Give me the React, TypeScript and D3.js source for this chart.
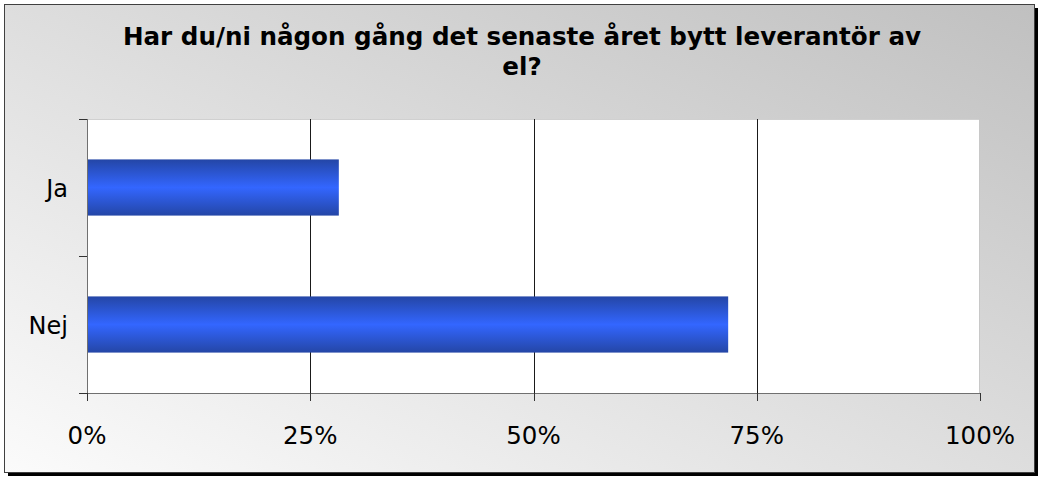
import React from "react";
import * as d3 from "d3";

const categories = ["Ja", "Nej"];
const values = [28.2, 71.8];
const xTicks = [0, 25, 50, 75, 100];
const titleLines = ["Har du/ni någon gång det senaste året bytt leverantör av", "el?"];

export default function App() {
  const W = 1038, H = 477;
  const plot = { left: 87, top: 119, right: 980, bottom: 393 };
  const x = d3.scaleLinear().domain([0, 100]).range([plot.left, plot.right]);
  const y = d3.scaleBand().domain(categories).range([plot.top, plot.bottom]).paddingInner(0.59).paddingOuter(0.295);
  const font = "'DejaVu Sans', Verdana, sans-serif";
  return (
    <svg width={W} height={H} style={{ position: "absolute", left: 0, top: 0, display: "block" }}>
      <defs>
        <linearGradient id="bg" x1="0" y1="1" x2="1" y2="0">
          <stop offset="0" stopColor="#fbfbfb" />
          <stop offset="1" stopColor="#c0c0c0" />
        </linearGradient>
        <linearGradient id="bar" x1="0" y1="0" x2="0" y2="1">
          <stop offset="0" stopColor="#2446a6" />
          <stop offset="0.5" stopColor="#3366ff" />
          <stop offset="1" stopColor="#2446a6" />
        </linearGradient>
      </defs>
      <rect x={8} y={8} width={1030} height={468} fill="#000" />
      <rect x={4.5} y={4.5} width={1030} height={468} fill="url(#bg)" stroke="#404040" strokeWidth={1} />
      {titleLines.map((t, i) => (
        <text key={i} x={522} y={45 + i * 30} textAnchor="middle" fontFamily={font} fontWeight="bold" fontSize={24.6} fill="#000">{t}</text>
      ))}
      <rect x={plot.left} y={plot.top} width={plot.right - plot.left} height={plot.bottom - plot.top} fill="#fff" />
      <line x1={plot.left} x2={plot.right} y1={plot.top + 0.5} y2={plot.top + 0.5} stroke="#d0d0d0" />
      <line x1={plot.right - 0.5} x2={plot.right - 0.5} y1={plot.top} y2={plot.bottom} stroke="#c8c8c8" />
      {xTicks.slice(1, -1).map((t) => (
        <line key={t} x1={Math.round(x(t)) + 0.5} x2={Math.round(x(t)) + 0.5} y1={plot.top} y2={plot.bottom} stroke="#1a1a1a" />
      ))}
      {categories.map((c, i) => (
        <rect key={c} x={x(0)} y={y(c)} width={x(values[i]) - x(0)} height={y.bandwidth()} fill="url(#bar)" />
      ))}
      <line x1={plot.left + 0.5} x2={plot.left + 0.5} y1={plot.top} y2={plot.bottom} stroke="#707070" />
      <line x1={plot.left} x2={plot.right} y1={plot.bottom + 0.5} y2={plot.bottom + 0.5} stroke="#707070" />
      {[0, 1, 2].map((i) => {
        const yy = Math.round(plot.top + (i * (plot.bottom - plot.top)) / 2) + 0.5;
        return <line key={i} x1={79} x2={plot.left} y1={yy} y2={yy} stroke="#333" />;
      })}
      {xTicks.map((t) => (
        <g key={t}>
          <line x1={Math.round(x(t)) + 0.5} x2={Math.round(x(t)) + 0.5} y1={plot.bottom} y2={plot.bottom + 8} stroke="#333" />
          <text x={x(t)} y={444} textAnchor="middle" fontFamily={font} fontSize={24.5} fill="#000">{t}%</text>
        </g>
      ))}
      {categories.map((c) => (
        <text key={c} x={68} y={y(c)! + y.bandwidth() / 2 + 9.5} textAnchor="end" fontFamily={font} fontSize={24} fill="#000">{c}</text>
      ))}
    </svg>
  );
}
